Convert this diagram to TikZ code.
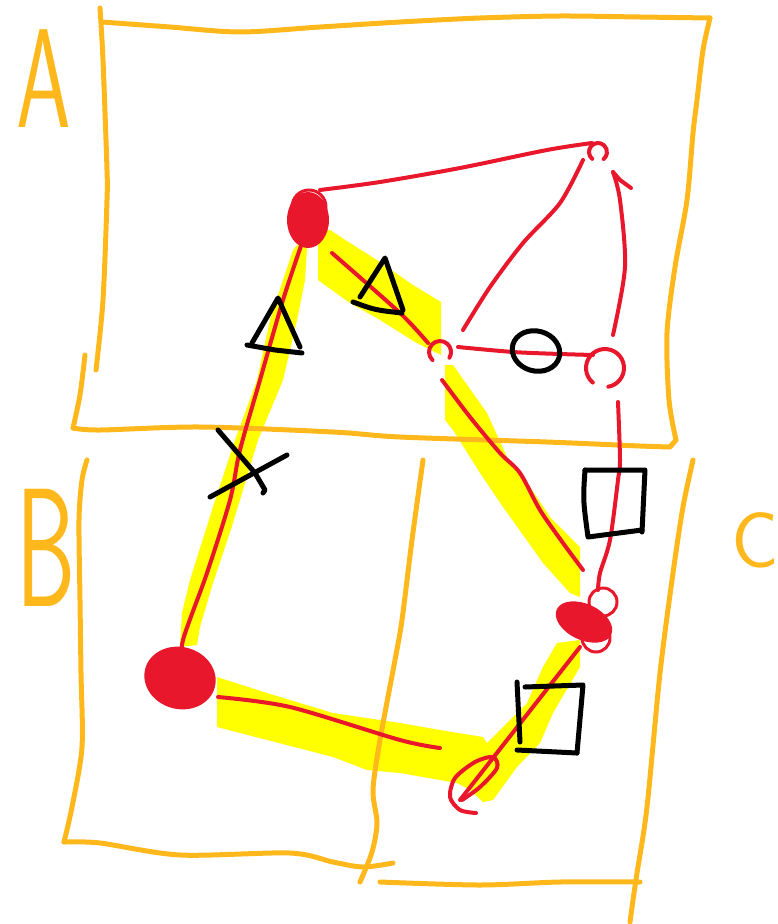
\documentclass[tikz,border=0pt]{standalone}
\usepackage{fontspec}
\definecolor{org}{HTML}{FFB81C}
\definecolor{rd}{HTML}{E8172B}
\definecolor{yl}{HTML}{FFFF00}
\begin{document}
\begin{tikzpicture}[x=1pt,y=-1pt,line cap=round,line join=round,
  ob/.style={draw=org,line width=5pt},
  rl/.style={draw=rd,line width=4pt},
  bk/.style={draw=black,line width=5pt},
  hl/.style={fill=yl,draw=none},
  lbl/.style={text=org,inner sep=0pt,font=\sffamily}]
\useasboundingbox (0,0) rectangle (777,924);

% named vertices
\coordinate (vA) at (308,220);
\coordinate (vB) at (180,678);
\coordinate (vC) at (584,622);
\coordinate (vT) at (598,152);
\coordinate (vM) at (440,352);
\coordinate (vR) at (605,368);

% ---------- yellow highlights ----------
\fill[hl] (308,233) -- (305,280) -- (297,320) -- (283,380) -- (258,440) -- (233,523) -- (213,583) -- (200,627) -- (197,645)
  -- (180,647) -- (182,613) -- (190,580) -- (213,507) -- (235,440) -- (257,380) -- (270,320) -- (283,280) -- (293,250) -- cycle;
\fill[hl] (318,230) -- (330,230) -- (350,243) -- (380,262) -- (413,285) -- (441,302) -- (441,355)
  -- (415,342) -- (380,320) -- (350,303) -- (318,280) -- cycle;
\fill[hl] (445,365) -- (453,365) -- (487,413) -- (507,457) -- (530,487) -- (550,517) -- (580,547) -- (580,597)
  -- (570,593) -- (543,563) -- (503,507) -- (480,473) -- (453,430) -- (445,420) -- cycle;
\fill[hl] (217,677) -- (267,693) -- (333,713) -- (400,723) -- (440,730) -- (483,737) -- (487,743) -- (507,723) -- (527,703)
  -- (543,667) -- (557,643) -- (580,640) -- (580,667) -- (553,713) -- (540,743) -- (517,767) -- (493,800) -- (483,802)
  -- (470,790) -- (457,783) -- (400,773) -- (367,770) -- (333,757) -- (217,727) -- cycle;

% ---------- orange frame ----------
\draw[ob] plot[smooth] coordinates {(102,22) (170,27) (240,32) (320,27) (400,22) (480,18) (560,16) (640,17) (710,18)};
\draw[ob] plot[smooth] coordinates {(100,8) (103,60) (107,170) (107,200) (103,300) (96,370)};
\draw[ob] plot[smooth] coordinates {(85,355) (80,395) (73,428)};
\draw[ob] plot[smooth] coordinates {(73,428) (100,430) (200,427) (333,432) (400,437) (547,442) (640,446) (670,447)} -- (676,440);
\draw[ob] plot[smooth] coordinates {(676,440) (669,400) (667,333) (675,267) (687,200) (693,133) (697,100) (703,50) (710,18)};
\draw[ob] plot[smooth] coordinates {(87,460) (82,480) (79,520) (80,600) (81,673) (82,747) (72,807) (64,842)};
\draw[ob] plot[smooth] coordinates {(64,842) (100,843) (180,855) (290,853) (333,862) (363,867) (393,863)};
\draw[ob] plot[smooth] coordinates {(423,460) (412,540) (402,620) (395,660) (380,740) (373,790) (377,823) (372,852) (360,882)};
\draw[ob] plot[smooth] coordinates {(380,882) (480,885) (560,882) (640,882)};
\draw[ob] plot[smooth] coordinates {(693,460) (683,507) (673,573) (660,673) (647,807) (637,873) (633,900) (630,922)};

% ---------- letters ----------
\node[lbl,font=\sffamily\fontsize{141}{141}\selectfont,xscale=0.62] (la) at (44,79) {A};
\node[lbl,font=\sffamily\fontsize{169}{169}\selectfont,xscale=0.56] (lb) at (46,548) {B};
\node[lbl,font=\sffamily\fontsize{79}{79}\selectfont] (lc) at (755,540) {C};

% ---------- red graph ----------
\draw[rl] plot[smooth] coordinates {(303,240) (283,300) (260,380) (240,450) (230,500) (207,573) (183,640) (182,667)};
\draw[rl] plot[smooth] coordinates {(320,190) (380,182) (460,168) (547,150) (592,143)};
\draw[rl] plot[smooth] coordinates {(583,160) (560,203) (523,243) (490,287) (463,330)};
\draw[rl] plot[smooth] coordinates {(613,335) (625,267) (620,200) (613,172)};
\draw[rl] (613,172) -- (620,180) -- (631,188);
\draw[rl] plot[smooth] coordinates {(458,347) (513,352) (560,354) (593,355)};
\draw[rl] plot[smooth] coordinates {(618,402) (620,460) (618,480) (610,540) (600,573) (598,590)};
\draw[rl] plot[smooth] coordinates {(442,380) (470,417) (500,453) (520,473) (540,510) (563,543) (583,570)};
\draw[rl] plot[smooth] coordinates {(332,253) (400,313) (428,343)};
\draw[rl] plot[smooth] coordinates {(218,697) (290,707) (400,740) (440,748)};
\draw[rl] (580,647) -- (460,800);
\draw[rl] plot[smooth] coordinates {(462,800) (480,787) (497,768) (493,757) (475,762) (455,778) (450,797) (460,810) (476,813)};

% open vertices
\draw[rl] (vT) ++(130:9) arc[start angle=130,end angle=411,radius=9];
\draw[rl] (vM) ++(133:11) arc[start angle=133,end angle=391,radius=11];
\draw[rl] (vR) ++(130:19) arc[start angle=130,end angle=440,radius=19];

% filled vertices
\fill[rd] (vA) ellipse[x radius=21,y radius=28];
\draw[rd,line width=3pt] (309,207) circle[radius=17];
\fill[rd,rotate around={-15:(vB)}] (vB) ellipse[x radius=36,y radius=31];
\fill[rd,rotate around={-25:(vC)}] (vC) ellipse[x radius=30,y radius=18];
\draw[rd,line width=3pt] (603,602) circle[radius=14];
\draw[rd,line width=3pt] (596,638) circle[radius=14];

% ---------- black marks ----------
\draw[bk] (252,343) -- (278,298) -- (300,347);
\draw[bk] (247,345) -- (275,350) -- (302,353);
\draw[bk] (360,297) -- (385,258) -- (403,310);
\draw[bk] (353,302) .. controls (375,310) .. (402,313);
\draw[bk,rotate around={-15:(536,351)}] (536,351) ellipse[x radius=24,y radius=20];
\draw[bk] (218,430) -- (255,473) -- (265,490) -- (263,493);
\draw[bk] (210,497) -- (287,455);
\draw[bk] (585,470) -- (645,470) -- (642,532);
\draw[bk] (585,470) .. controls (583,500) .. (588,537) -- (642,530);
\draw[bk] (517,682) -- (520,742);
\draw[bk] (525,687) -- (583,685) -- (577,753);
\draw[bk] (517,750) -- (577,753);
\end{tikzpicture}
\end{document}
